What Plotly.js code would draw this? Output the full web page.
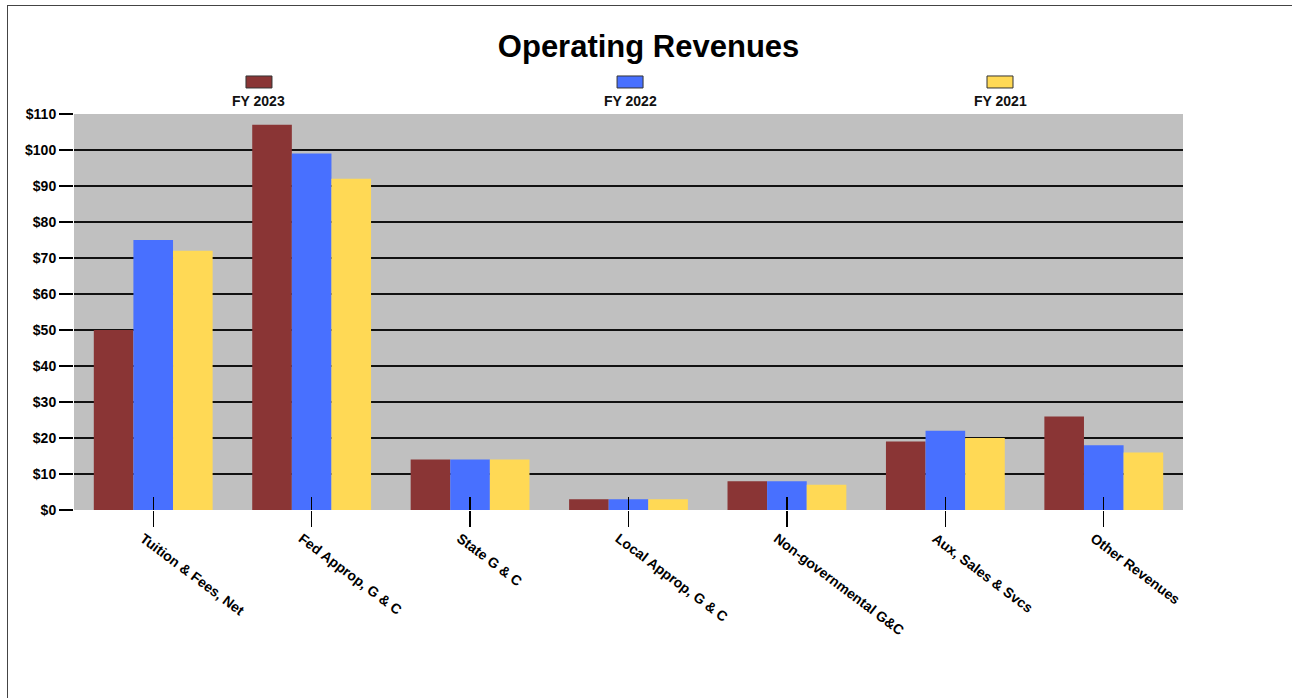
<!DOCTYPE html>
<html>
<head>
<meta charset="utf-8">
<script src="https://cdn.plot.ly/plotly-3.0.1.min.js"></script>
<style>
  html, body { margin: 0; padding: 0; background: #fff; }
  #chart { position: absolute; left: 0; top: 0; width: 1292px; height: 698px; }
  #frame { position: absolute; left: 7px; top: 5px; width: 1300px; height: 700px;
           border-left: 1px solid #444; border-top: 1px solid #444; pointer-events: none; }
</style>
</head>
<body>
<div id="chart"></div>
<div id="frame"></div>
<script>
const categories = ['Tuition & Fees, Net', 'Fed Approp, G & C', 'State G & C', 'Local Approp, G & C',
                    'Non-governmental G&C', 'Aux, Sales & Svcs', 'Other Revenues'];
const fy2023 = [50, 107, 14, 3, 8, 19, 26];
const fy2022 = [75, 99, 14, 3, 8, 22, 18];
const fy2021 = [72, 92, 14, 3, 7, 20, 16];
const seriesNames = ['FY 2023', 'FY 2022', 'FY 2021'];
const seriesColors = ['#8A3535', '#4870FF', '#FFD955'];
const yTicks = [0, 10, 20, 30, 40, 50, 60, 70, 80, 90, 100, 110];
const gridTicks = [10, 20, 30, 40, 50, 60, 70, 80, 90, 100];

const FONT = 'Liberation Sans, Arial, sans-serif';
const seriesValues = [fy2023, fy2022, fy2021];

const traces = seriesValues.map((vals, i) => ({
  type: 'bar', x: categories, y: vals, name: seriesNames[i],
  marker: { color: seriesColors[i], line: { width: 0 } },
  showlegend: false, hoverinfo: 'x+y+name'
}));
// helper (empty) trace so the overlay axes for grid lines / inner ticks exist
traces.push({ type: 'scatter', x: [], y: [], xaxis: 'x2', yaxis: 'y2', showlegend: false, hoverinfo: 'skip' });

// custom legend: swatch above the label
const shapes = [];
const annotations = [];
const legendCenters = [0.1668, 0.5014, 0.8350];
const swW = 26 / 1109;
seriesNames.forEach((n, i) => {
  shapes.push({ type: 'rect', xref: 'paper', yref: 'paper',
    x0: legendCenters[i] - swW / 2, x1: legendCenters[i] + swW / 2, y0: 1.0657, y1: 1.0960,
    fillcolor: seriesColors[i], line: { color: '#333', width: 1 } });
  annotations.push({ xref: 'paper', yref: 'paper', x: legendCenters[i], y: 1.033,
    xanchor: 'center', yanchor: 'middle', showarrow: false, text: n,
    font: { family: FONT, size: 14, color: '#111', weight: 'bold' } });
});

const layout = {
  width: 1292, height: 698,
  margin: { l: 74, r: 109, t: 114, b: 188 },
  paper_bgcolor: '#ffffff', plot_bgcolor: '#C0C0C0',
  title: { text: 'Operating Revenues', x: 0.502, xref: 'container', xanchor: 'center',
           y: 1 - 46 / 698, yref: 'container', yanchor: 'middle',
           font: { family: FONT, size: 31, color: '#000', weight: 'bold' } },
  barmode: 'group', bargap: 0.25, bargroupgap: 0,
  showlegend: false,
  xaxis: {
    type: 'category', showgrid: false, zeroline: false, showline: false,
    ticks: 'outside', ticklen: 16, tickwidth: 1.2, tickcolor: '#000',
    tickangle: 37, ticklabelshift: -10, ticklabelstandoff: -2,
    tickfont: { family: FONT, size: 14, color: '#000', weight: 'bold' }
  },
  xaxis2: {
    overlaying: 'x', anchor: 'y', type: 'linear', range: [-0.5, 6.5],
    tickvals: categories.map((c, i) => i), showticklabels: false,
    ticks: 'inside', ticklen: 13, tickwidth: 1.2, tickcolor: '#000',
    showgrid: false, zeroline: false, showline: false
  },
  yaxis: {
    range: [0, 110], tickvals: yTicks, ticktext: yTicks.map(v => '$' + v),
    showgrid: false, zeroline: false, showline: false,
    ticks: 'outside', ticklen: 14, tickwidth: 1.5, tickcolor: '#000',
    tickfont: { family: FONT, size: 14, color: '#000', weight: 'bold' }
  },
  yaxis2: {
    overlaying: 'y', anchor: 'x', range: [0, 110], tickvals: gridTicks,
    showticklabels: false, ticks: '', showgrid: true, gridcolor: '#111', gridwidth: 1.5,
    zeroline: false, showline: false
  },
  shapes: shapes,
  annotations: annotations
};

Plotly.newPlot('chart', traces, layout, { displayModeBar: false, staticPlot: true });
</script>
</body>
</html>
